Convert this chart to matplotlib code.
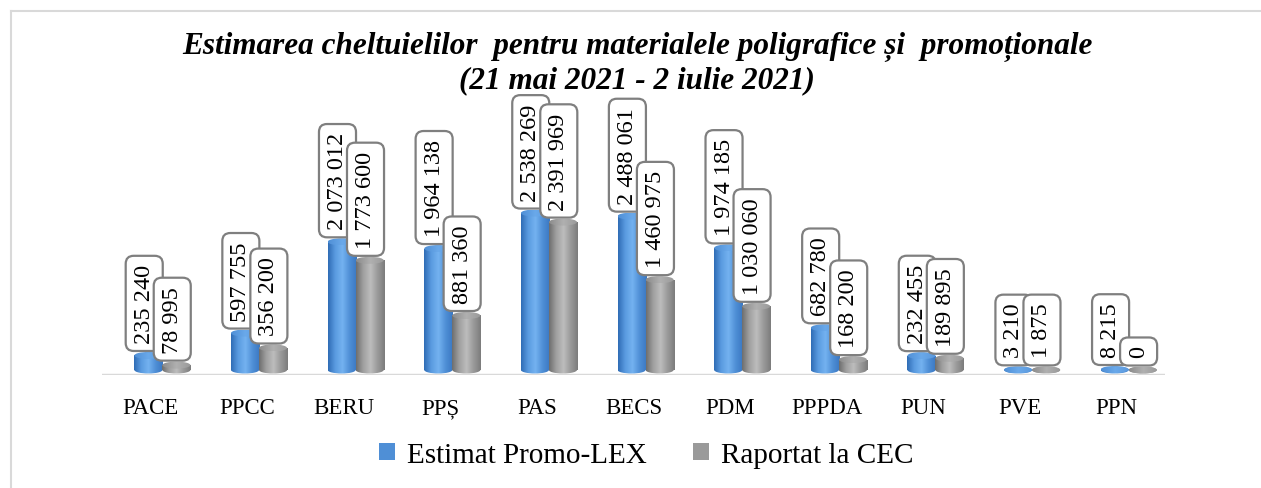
import matplotlib
matplotlib.use('Agg')
import matplotlib.pyplot as plt
import numpy as np
from matplotlib.patches import Ellipse, Patch
from matplotlib.colors import LinearSegmentedColormap
from matplotlib.lines import Line2D

# data
parties = ['PACE', 'PPCC', 'BERU', 'PPȘ', 'PAS', 'BECS', 'PDM', 'PPPDA', 'PUN', 'PVE', 'PPN']
estimat = [235240, 597755, 2073012, 1964138, 2538269, 2488061, 1974185, 682780, 232455, 3210, 8215]
raportat = [78995, 356200, 1773600, 881360, 2391969, 1460975, 1030060, 168200, 189895, 1875, 0]
series_names = ['Estimat Promo-LEX', 'Raportat la CEC']
title1 = 'Estimarea cheltuielilor  pentru materialele poligrafice și  promoționale'
title2 = '(21 mai 2021 - 2 iulie 2021)'

plt.rcParams['font.family'] = ['Liberation Serif', 'DejaVu Serif']

W, H = 1261, 489
fig = plt.figure(figsize=(W / 100, H / 100), dpi=100)
ax = fig.add_axes([102 / W, (H - 376) / H, (1165 - 102) / W, (376 - 95) / H])

px = 16170  # value per pixel
ymin = -5 * px
ymax = (371 - 95) * px
eh = 7 * px  # ellipse height of the cylinder caps

blue_body = LinearSegmentedColormap.from_list('bb', ['#2f6cb5', '#5a9be0', '#74b2f0', '#4f8fd6', '#3b78c2'])
blue_cap = LinearSegmentedColormap.from_list('bc', ['#4f8fd6', '#6aa9ea', '#5a98dc'])
gray_body = LinearSegmentedColormap.from_list('gb', ['#6e6e6e', '#a0a0a0', '#bdbdbd', '#9a9a9a', '#7c7c7c'])
gray_cap = LinearSegmentedColormap.from_list('gc', ['#8c8c8c', '#b0b0b0', '#999999'])

grad = np.linspace(0, 1, 200).reshape(1, -1)


def cylinder(x, h, w, body, cap, z):
    bar = ax.bar(x, h, width=w, color='none', zorder=z)[0]
    im = ax.imshow(grad, cmap=body, extent=(x - w / 2, x + w / 2, 0, max(h, 1)),
                   aspect='auto', zorder=z)
    im.set_clip_path(bar)
    # bottom of the cylinder
    bot = Ellipse((x, 0), w, eh, fc='none', ec='none', zorder=z)
    ax.add_patch(bot)
    im2 = ax.imshow(grad, cmap=body, extent=(x - w / 2, x + w / 2, -eh / 2, eh / 2),
                    aspect='auto', zorder=z)
    im2.set_clip_path(bot)
    # top cap
    top = Ellipse((x, h), w, eh, fc='none', ec='none', zorder=z + 0.1)
    ax.add_patch(top)
    im3 = ax.imshow(grad, cmap=cap, extent=(x - w / 2, x + w / 2, h - eh / 2, h + eh / 2),
                    aspect='auto', zorder=z + 0.1)
    im3.set_clip_path(top)


def fmt(v):
    return f'{v:,}'.replace(',', ' ')


bw = 0.29
shift = 0.125
for i in range(len(parties)):
    xb = i + shift - bw / 2
    xg = i + shift + bw / 2
    cylinder(xb, estimat[i], bw, blue_body, blue_cap, 2)
    cylinder(xg, raportat[i], bw, gray_body, gray_cap, 3)
    for xx, v, z in [(xb, estimat[i], 10), (xg, raportat[i], 11)]:
        ax.annotate(fmt(v), xy=(xx, v), xytext=(-3, 9), textcoords='offset points',
                    rotation=90, ha='center', va='bottom', fontsize=17.5, zorder=z,
                    bbox=dict(boxstyle='round,pad=0.33', fc='white', ec='#7f7f7f', lw=1.6))

ax.set_xlim(-0.5, 10.5)
ax.set_ylim(ymin, ymax)
ax.axhline(ymin, color='#d9d9d9', lw=2.5, zorder=1)
for s in ax.spines.values():
    s.set_visible(False)
ax.set_yticks([])
ax.set_xticks(range(len(parties)))
ax.set_xticklabels(parties, fontsize=16.5)
ax.tick_params(axis='x', length=0, pad=16)

handles = [Patch(fc='#4f8fd6'), Patch(fc='#9a9a9a')]
fig.legend(handles, series_names, loc='center', bbox_to_anchor=(646 / W, 1 - 456 / H),
           ncol=2, frameon=False, fontsize=21, handlelength=0.55, handleheight=0.55,
           handletextpad=0.4, columnspacing=1.6)

fig.text(637 / W, 1 - 47 / H, title1, ha='center', va='center', fontsize=22.5,
         fontweight='bold', fontstyle='italic')
fig.text(637 / W, 1 - 81 / H, title2, ha='center', va='center', fontsize=22.5,
         fontweight='bold', fontstyle='italic')

# chart frame (only top and left edges are visible)
fig.add_artist(Line2D([11 / W, 11 / W], [0, 1 - 12 / H], transform=fig.transFigure,
                      color='#d9d9d9', lw=1.5))
fig.add_artist(Line2D([11 / W, 1], [1 - 12 / H, 1 - 12 / H], transform=fig.transFigure,
                      color='#d9d9d9', lw=1.5))

fig.savefig('out.png', dpi=100)
